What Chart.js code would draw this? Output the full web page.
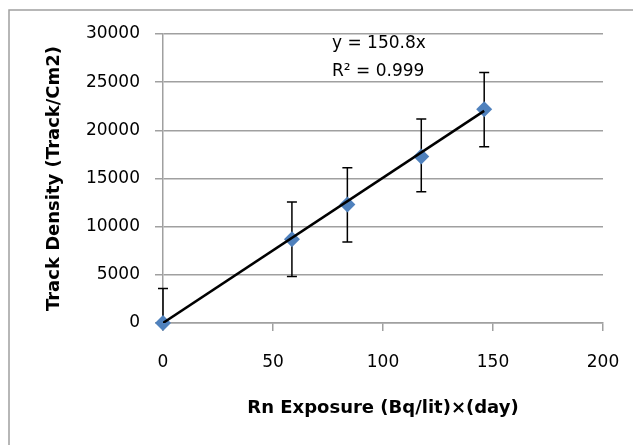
<!DOCTYPE html>
<html>
<head>
<meta charset="utf-8">
<script src="https://cdn.jsdelivr.net/npm/chart.js@4.4.1/dist/chart.umd.min.js"></script>
<style>
  html, body { margin:0; padding:0; background:#fff; }
  #wrap { position:relative; width:633px; height:445px; }
</style>
</head>
<body>
<div id="wrap"><canvas id="grafico"></canvas></div>
<script>
// ---------------- dados ---------------- //
const exposicao = [0, 58.6, 83.8, 117.4, 146];          // Bq/lit x day
const densidade = [0, 8700, 12300, 17280, 22190];       // Track/Cm2
const erroMais  = [3570, 3870, 3820, 3890, 3820];
const erroMenos = [3570, 3870, 3880, 3650, 3890];
const declive = 150.8;
const tendX = [0, 146];
const eqTexto = ['y = 150.8x', 'R² = 0.999'];

const FONTE = "'DejaVu Sans', sans-serif";
const CINZA = '#a0a0a0';

// barras de erro (desenhadas antes dos marcadores)
const barrasErro = {
  id: 'barrasErro',
  beforeDatasetsDraw(chart) {
    const { ctx, scales: { x, y } } = chart;
    ctx.save();
    ctx.strokeStyle = '#000';
    ctx.lineWidth = 1.5;
    exposicao.forEach((xv, i) => {
      const px = x.getPixelForValue(xv);
      const top = y.getPixelForValue(densidade[i] + erroMais[i]);
      const bot = y.getPixelForValue(Math.max(densidade[i] - erroMenos[i], y.min));
      ctx.beginPath();
      ctx.moveTo(px, top); ctx.lineTo(px, bot);
      ctx.moveTo(px - 5, top); ctx.lineTo(px + 5, top);
      if (densidade[i] - erroMenos[i] >= y.min) { ctx.moveTo(px - 5, bot); ctx.lineTo(px + 5, bot); }
      ctx.stroke();
    });
    ctx.restore();
  }
};

// moldura + equação
const extras = {
  id: 'extras',
  beforeDraw(chart) {
    const ctx = chart.ctx;
    ctx.save();
    ctx.strokeStyle = CINZA;
    ctx.lineWidth = 1.5;
    ctx.beginPath();
    ctx.moveTo(9, 445); ctx.lineTo(9, 10); ctx.lineTo(633, 10);
    ctx.stroke();
    ctx.restore();
  },
  afterDraw(chart) {
    const ctx = chart.ctx;
    ctx.save();
    ctx.fillStyle = '#000';
    ctx.font = `17px ${FONTE}`;
    ctx.textBaseline = 'middle';
    ctx.fillText(eqTexto[0], 332, 44);
    ctx.fillText(eqTexto[1], 332, 72);
    ctx.restore();
  }
};

new Chart(document.getElementById('grafico'), {
  type: 'scatter',
  data: {
    datasets: [
      {
        type: 'line',
        data: tendX.map(v => ({ x: v, y: declive * v })),
        borderColor: '#000',
        borderWidth: 2.5,
        pointRadius: 0,
        fill: false
      },
      {
        data: exposicao.map((v, i) => ({ x: v, y: densidade[i] })),
        pointStyle: 'rectRot',
        pointRadius: 8,
        pointBackgroundColor: '#4f81bd',
        pointBorderColor: '#4f81bd',
        pointBorderWidth: 0,
        clip: false
      }
    ]
  },
  options: {
    responsive: true,
    maintainAspectRatio: false,
    animation: false,
    layout: { padding: { left: 0, right: 30, top: 34, bottom: 0 } },
    plugins: { legend: { display: false }, tooltip: { enabled: false } },
    scales: {
      x: {
        type: 'linear', min: 0, max: 200,
        ticks: { stepSize: 50, color: '#000', padding: 21, font: { family: FONTE, size: 17 }, callback: v => String(v) },
        grid: { drawOnChartArea: false, drawTicks: true, tickLength: 8, color: CINZA, lineWidth: 1.5 },
        border: { color: CINZA, width: 1.5 },
        title: {
          display: true, text: 'Rn Exposure (Bq/lit)×(day)', color: '#000',
          font: { family: FONTE, size: 18, weight: 'bold' }, padding: { top: 0, bottom: 26 }
        },
        afterFit: s => { s.height = 122; s.paddingRight = 0; s.paddingLeft = 0; }
      },
      y: {
        min: 0, max: 30000,
        ticks: { stepSize: 5000, color: '#000', padding: 15, font: { family: FONTE, size: 17 }, callback: v => String(v) },
        grid: { color: CINZA, lineWidth: 1.5, tickLength: 8 },
        border: { color: CINZA, width: 1.5 },
        title: {
          display: true, text: 'Track Density (Track/Cm2)', color: '#000',
          font: { family: FONTE, size: 18, weight: 'bold' }, padding: { top: 44, bottom: 0 }
        },
        afterFit: s => { s.width = 163; s.paddingTop = 0; s.paddingBottom = 0; }
      }
    }
  },
  plugins: [barrasErro, extras]
});
</script>
</body>
</html>
